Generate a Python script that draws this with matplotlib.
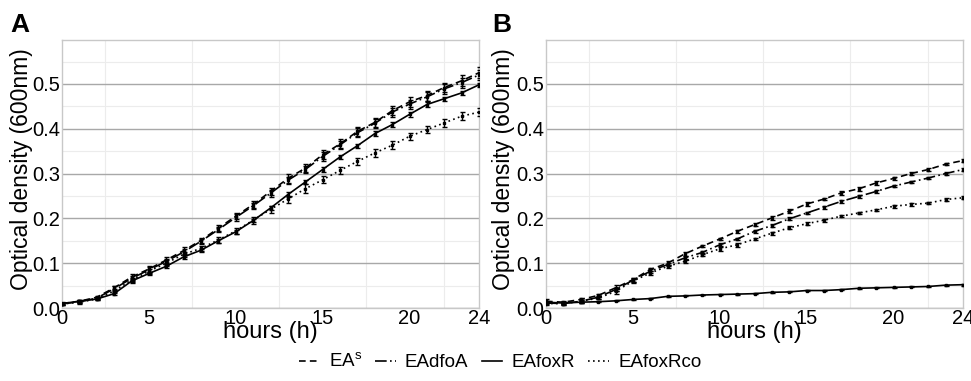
import numpy as np
import matplotlib
matplotlib.use("Agg")
from matplotlib import pyplot as plt
from matplotlib.lines import Line2D

plt.rcParams['font.family'] = ['Liberation Sans', 'DejaVu Sans']

hours = list(range(25))
strains = ["EA$^{\\mathregular{s}}$", "EAdfoA", "EAfoxR", "EAfoxRco"]

# Panel A - optical density (600nm)
a_eas = [0.010, 0.015, 0.024, 0.045, 0.069, 0.087, 0.107, 0.128, 0.151, 0.178, 0.205, 0.231, 0.260,
         0.289, 0.312, 0.342, 0.366, 0.394, 0.414, 0.440, 0.460, 0.474, 0.492, 0.507, 0.525]
a_eadfoa = [0.009, 0.014, 0.022, 0.043, 0.066, 0.085, 0.104, 0.125, 0.149, 0.175, 0.202, 0.228, 0.256,
            0.285, 0.309, 0.338, 0.364, 0.391, 0.412, 0.437, 0.455, 0.471, 0.489, 0.503, 0.520]
a_eafoxr = [0.010, 0.015, 0.020, 0.032, 0.060, 0.077, 0.093, 0.114, 0.129, 0.150, 0.170, 0.195, 0.223,
            0.253, 0.281, 0.309, 0.337, 0.362, 0.389, 0.409, 0.432, 0.454, 0.467, 0.480, 0.498]
a_eafoxrco = [0.009, 0.013, 0.020, 0.038, 0.062, 0.082, 0.100, 0.120, 0.133, 0.152, 0.172, 0.196, 0.220,
              0.243, 0.266, 0.286, 0.307, 0.327, 0.346, 0.363, 0.383, 0.398, 0.413, 0.428, 0.437]
a_err = [
    [0.003, 0.003, 0.003, 0.005, 0.006, 0.006, 0.006, 0.007, 0.006, 0.007, 0.007, 0.008, 0.008,
     0.009, 0.009, 0.010, 0.010, 0.010, 0.011, 0.010, 0.011, 0.011, 0.011, 0.012, 0.012],
    [0.003, 0.003, 0.003, 0.005, 0.005, 0.006, 0.006, 0.006, 0.006, 0.006, 0.007, 0.007, 0.008,
     0.008, 0.008, 0.009, 0.009, 0.010, 0.010, 0.010, 0.010, 0.010, 0.011, 0.011, 0.011],
    [0.002, 0.002, 0.002, 0.003, 0.004, 0.004, 0.004, 0.004, 0.003, 0.004, 0.004, 0.004, 0.005,
     0.005, 0.005, 0.005, 0.005, 0.005, 0.005, 0.005, 0.005, 0.005, 0.004, 0.005, 0.005],
    [0.003, 0.003, 0.003, 0.004, 0.005, 0.006, 0.006, 0.006, 0.006, 0.007, 0.007, 0.008, 0.008,
     0.008, 0.010, 0.008, 0.008, 0.008, 0.008, 0.009, 0.008, 0.008, 0.009, 0.009, 0.009],
]

# Panel B - optical density (600nm)
b_eas = [0.015, 0.013, 0.019, 0.028, 0.045, 0.063, 0.086, 0.100, 0.121, 0.138, 0.154, 0.171, 0.186,
         0.201, 0.216, 0.232, 0.243, 0.257, 0.266, 0.279, 0.289, 0.300, 0.309, 0.321, 0.329]
b_eadfoa = [0.011, 0.010, 0.015, 0.024, 0.041, 0.062, 0.082, 0.097, 0.112, 0.124, 0.141, 0.154, 0.171,
            0.184, 0.199, 0.212, 0.225, 0.238, 0.249, 0.260, 0.272, 0.281, 0.290, 0.300, 0.309]
b_eafoxr = [0.013, 0.011, 0.013, 0.014, 0.016, 0.019, 0.021, 0.026, 0.027, 0.029, 0.030, 0.031, 0.032,
            0.035, 0.036, 0.039, 0.039, 0.041, 0.044, 0.045, 0.046, 0.047, 0.048, 0.051, 0.052]
b_eafoxrco = [0.010, 0.010, 0.015, 0.022, 0.037, 0.060, 0.078, 0.093, 0.104, 0.119, 0.132, 0.141, 0.154,
              0.167, 0.179, 0.188, 0.196, 0.205, 0.212, 0.219, 0.227, 0.231, 0.234, 0.242, 0.246]
b_err = [
    [0.004, 0.003, 0.003, 0.004, 0.006, 0.004, 0.004, 0.004, 0.004, 0.003, 0.003, 0.004, 0.004,
     0.004, 0.004, 0.004, 0.003, 0.004, 0.004, 0.004, 0.004, 0.003, 0.003, 0.003, 0.004],
    [0.003, 0.003, 0.003, 0.003, 0.004, 0.004, 0.004, 0.003, 0.003, 0.003, 0.003, 0.003, 0.003,
     0.003, 0.003, 0.003, 0.003, 0.003, 0.003, 0.003, 0.003, 0.003, 0.003, 0.003, 0.003],
    [0.002, 0.002, 0.001, 0.001, 0.001, 0.001, 0.001, 0.001, 0.001, 0.001, 0.001, 0.001, 0.001,
     0.001, 0.001, 0.001, 0.001, 0.001, 0.001, 0.001, 0.001, 0.001, 0.001, 0.001, 0.002],
    [0.003, 0.003, 0.003, 0.003, 0.005, 0.004, 0.004, 0.004, 0.004, 0.004, 0.004, 0.004, 0.003,
     0.003, 0.003, 0.003, 0.003, 0.003, 0.003, 0.003, 0.003, 0.003, 0.003, 0.003, 0.003],
]

styles = [(0, (4, 2.5)), (0, (7, 2, 1, 2)), '-', (0, (1, 2))]

panels = [
    ("A", [a_eas, a_eadfoa, a_eafoxr, a_eafoxrco], a_err),
    ("B", [b_eas, b_eadfoa, b_eafoxr, b_eafoxrco], b_err),
]

fig = plt.figure(figsize=(9.71, 3.81), dpi=100)
lefts = [62 / 971, 546 / 971]
w = 417 / 971
bottom = 1 - 308 / 381
h = 268 / 381

for i, (letter, series, errs) in enumerate(panels):
    ax = fig.add_axes([lefts[i], bottom, w, h])
    for k in range(4):
        ax.errorbar(hours, series[k], yerr=errs[k], color='black', linestyle=styles[k],
                    linewidth=1.2, elinewidth=1.0, capsize=1.8, capthick=1.0,
                    marker='s', markersize=2, zorder=3)
    ax.set_xlim(0, 24)
    ax.set_ylim(0, 0.598)
    ax.set_xticks([0, 5, 10, 15, 20, 24])
    ax.set_yticks([0.0, 0.1, 0.2, 0.3, 0.4, 0.5])
    ax.set_yticklabels(["0.0", "0.1", "0.2", "0.3", "0.4", "0.5"])
    ax.set_xticks([2.5, 7.5, 12.5, 17.5, 22], minor=True)
    ax.set_yticks([0.05, 0.15, 0.25, 0.35, 0.45, 0.55], minor=True)
    ax.grid(axis='y', which='major', color='#a8a8a8', linewidth=1.0, zorder=0)
    ax.grid(axis='y', which='minor', color='#ececec', linewidth=0.8, zorder=0)
    ax.grid(axis='x', which='minor', color='#ececec', linewidth=0.8, zorder=0)
    ax.set_axisbelow(True)
    ax.tick_params(which='both', length=0, labelsize=14.5, pad=1, colors='black')
    for sp in ax.spines.values():
        sp.set_color('#c8c8c8')
        sp.set_linewidth(1.0)
    ax.set_xlabel("hours (h)", fontsize=17, labelpad=-5)
    ax.set_ylabel("Optical density (600nm)", fontsize=16.5)
    ax.yaxis.set_label_coords(-0.07 if i == 0 else -0.074, 0.52)
    ax.text(-0.125 if i == 0 else -0.128, 1.012, letter, transform=ax.transAxes,
            fontsize=19, fontweight='bold', va='bottom', ha='left')

handles = [Line2D([0], [0], color='black', linestyle=styles[k], linewidth=1.2) for k in range(4)]
fig.legend(handles, strains, loc='center', bbox_to_anchor=(500 / 971, 1 - 362 / 381), ncol=4,
           frameon=False, fontsize=13.5, handlelength=1.1, handletextpad=0.5, columnspacing=0.7)

fig.savefig("out.png", dpi=100)
